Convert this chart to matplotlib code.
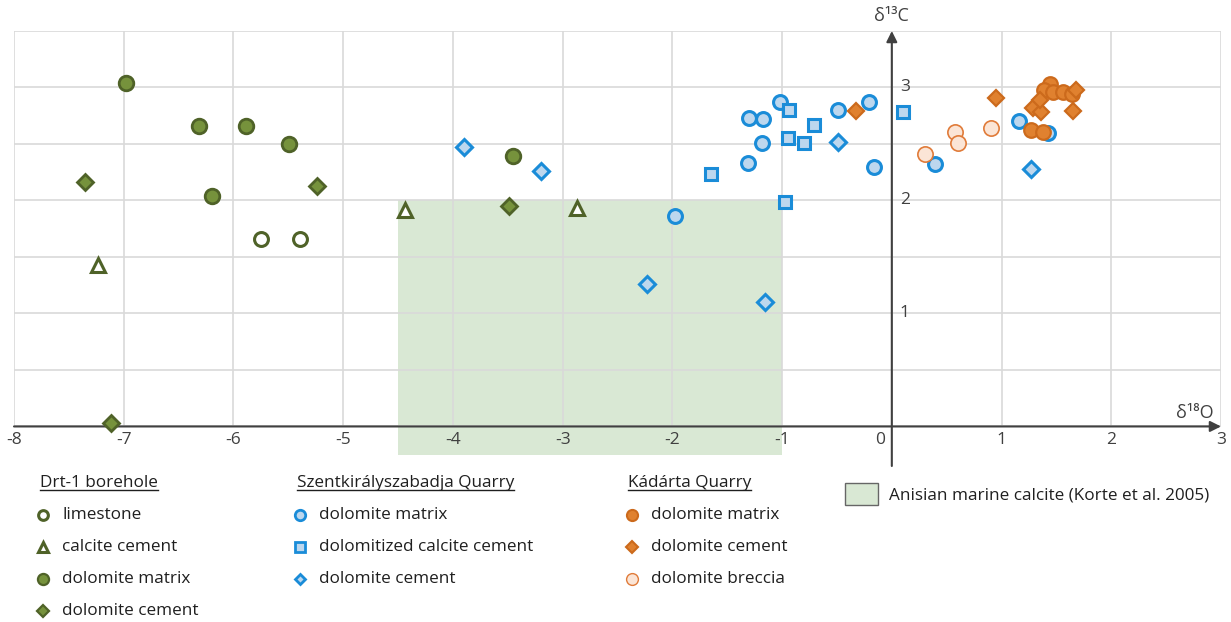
import matplotlib.pyplot as plt
from matplotlib.patches import Rectangle
from matplotlib.lines import Line2D
from matplotlib.transforms import IdentityTransform

plt.rcParams['font.family'] = ['Open Sans', 'DejaVu Sans']

# Drt-1 borehole
drt_lime_x = [-5.75, -5.39]
drt_lime_y = [1.66, 1.66]
drt_calc_x = [-7.23, -4.44, -2.87]
drt_calc_y = [1.43, 1.92, 1.93]
drt_mat_x = [-6.98, -6.31, -5.89, -5.49, -6.20, -3.45]
drt_mat_y = [3.04, 2.66, 2.66, 2.50, 2.04, 2.39]
drt_cem_x = [-7.35, -5.24, -3.49, -7.12]
drt_cem_y = [2.16, 2.13, 1.95, 0.03]

# Szentkirályszabadja Quarry
szk_mat_x = [-1.02, -1.30, -1.17, -1.18, -1.31, -0.49, -0.21, -0.16, -1.98, 0.39, 1.16, 1.42]
szk_mat_y = [2.87, 2.73, 2.72, 2.51, 2.33, 2.80, 2.87, 2.30, 1.86, 2.32, 2.70, 2.60]
szk_sq_x = [-0.94, -0.71, -0.95, -0.80, 0.10, -1.65, -0.97]
szk_sq_y = [2.80, 2.67, 2.55, 2.51, 2.78, 2.23, 1.99]
szk_cem_x = [-3.90, -3.20, -0.49, -2.23, -1.16, 1.27]
szk_cem_y = [2.47, 2.26, 2.52, 1.26, 1.10, 2.28]

# Kádárta Quarry
kad_mat_x = [1.27, 1.38, 1.44, 1.39, 1.47, 1.56, 1.64]
kad_mat_y = [2.62, 2.61, 3.03, 2.98, 2.96, 2.96, 2.94]
kad_cem_x = [-0.33, 0.95, 1.29, 1.36, 1.35, 1.65, 1.68]
kad_cem_y = [2.79, 2.91, 2.82, 2.78, 2.89, 2.79, 2.98]
kad_brec_x = [0.30, 0.58, 0.60, 0.90]
kad_brec_y = [2.41, 2.61, 2.51, 2.64]

# Anisian marine calcite field
box_x = (-4.5, -1.0)
box_y = (-0.25, 2.0)

x_ticks = [-8, -7, -6, -5, -4, -3, -2, -1, 0, 1, 2, 3]
y_ticks = [1, 2, 3]

G_EDGE, G_FILL = '#4f6228', '#76923c'
B_EDGE, B_FILL = '#1a8cd8', '#bdd7ee'
O_EDGE, O_FILL = '#cc6a1c', '#e0812f'
BR_EDGE, BR_FILL = '#e07b39', '#fbe5d6'
BOX = '#d9e8d4'
AX = '#404040'
TXT = '#1f1f1f'

fig = plt.figure(figsize=(12.31, 6.22), dpi=100)
ax = fig.add_axes([14/1231, (622-466)/622, 1207/1231, 435/622])
ax.set_xlim(-8, 3)
ax.set_ylim(-0.35, 3.5)
ax.axis('off')

ax.add_patch(Rectangle((box_x[0], box_y[0]), box_x[1]-box_x[0], box_y[1]-box_y[0],
                       facecolor=BOX, edgecolor='none', zorder=0.5))
for gx in x_ticks:
    ax.plot([gx, gx], [0, 3.5], color='#d9d9d9', lw=1.2, zorder=1)
for k in range(8):
    gy = k * 0.5
    ax.plot([-8, 3], [gy, gy], color='#d9d9d9', lw=1.2, zorder=1)

ax.annotate('', xy=(3, 0), xytext=(-8, 0), annotation_clip=False, zorder=3,
            arrowprops=dict(arrowstyle='-|>', color=AX, lw=1.5, mutation_scale=16, shrinkA=0, shrinkB=0))
ax.annotate('', xy=(0, 3.5), xytext=(0, -0.35), annotation_clip=False, zorder=3,
            arrowprops=dict(arrowstyle='-|>', color=AX, lw=1.5, mutation_scale=16, shrinkA=0, shrinkB=0))

for t in x_ticks:
    dx = -12 if t == 0 else 0
    ax.annotate(str(t), (t, 0), xytext=(dx, -14), textcoords='offset pixels',
                ha='center', va='center', fontsize=12.5, color='#404040', annotation_clip=False)
for t in y_ticks:
    ax.annotate(str(t), (0, t), xytext=(13, 0), textcoords='offset pixels',
                ha='center', va='center', fontsize=12.5, color='#404040')
ax.annotate('δ¹³C', (0, 3.5), xytext=(0, 15), textcoords='offset pixels',
            ha='center', va='center', fontsize=13, color='#404040', annotation_clip=False)
ax.annotate('δ¹⁸O', (3, 0), xytext=(-7, 13), textcoords='offset pixels',
            ha='right', va='center', fontsize=13, color='#404040', annotation_clip=False)

kw = dict(linestyle='none', zorder=4)
ax.plot(drt_lime_x, drt_lime_y, marker='o', ms=10, mfc='white', mec=G_EDGE, mew=2.2, **kw)
ax.plot(drt_calc_x, drt_calc_y, marker='^', ms=10.5, mfc='white', mec=G_EDGE, mew=2.2, **kw)
ax.plot(drt_mat_x, drt_mat_y, marker='o', ms=10.5, mfc=G_FILL, mec=G_EDGE, mew=2, **kw)
ax.plot(drt_cem_x, drt_cem_y, marker='D', ms=8.5, mfc=G_FILL, mec=G_EDGE, mew=2, **kw)
ax.plot(szk_mat_x, szk_mat_y, marker='o', ms=10, mfc=B_FILL, mec=B_EDGE, mew=2.2, **kw)
ax.plot(szk_sq_x, szk_sq_y, marker='s', ms=8.5, mfc=B_FILL, mec=B_EDGE, mew=2.2, **kw)
ax.plot(szk_cem_x, szk_cem_y, marker='D', ms=8, mfc=B_FILL, mec=B_EDGE, mew=2.2, **kw)
ax.plot(kad_mat_x, kad_mat_y, marker='o', ms=10.5, mfc=O_FILL, mec=O_EDGE, mew=1.6, **kw)
ax.plot(kad_cem_x, kad_cem_y, marker='D', ms=8.5, mfc=O_FILL, mec=O_EDGE, mew=1.6, **kw)
ax.plot(kad_brec_x, kad_brec_y, marker='o', ms=11, mfc=BR_FILL, mec=BR_EDGE, mew=1.2, **kw)

# legend built by hand
def fx(px):
    return px / 1231

def fy(py):
    return 1 - py / 622

renderer = fig.canvas.get_renderer()

def title(px, py, s):
    t = fig.text(fx(px), fy(py), s, ha='left', va='center', fontsize=12.3, color=TXT)
    bb = t.get_window_extent(renderer)
    fig.add_artist(Line2D([bb.x0, bb.x1], [bb.y0 + 1, bb.y0 + 1], transform=IdentityTransform(),
                          color=TXT, lw=1))

def item(px, py, s, marker, ms, mfc, mec, mew):
    fig.add_artist(Line2D([fx(px)], [fy(py)], marker=marker, ms=ms, mfc=mfc, mec=mec, mew=mew,
                          linestyle='none', transform=fig.transFigure))
    fig.text(fx(px + 19), fy(py), s, ha='left', va='center', fontsize=12.3, color=TXT)

title(40, 483, 'Drt-1 borehole')
item(43, 515, 'limestone', 'o', 7, 'white', G_EDGE, 2.2)
item(43, 547, 'calcite cement', '^', 7, 'white', G_EDGE, 2.2)
item(43, 579, 'dolomite matrix', 'o', 8, G_FILL, G_EDGE, 1.6)
item(43, 611, 'dolomite cement', 'D', 6, G_FILL, G_EDGE, 1.6)

title(297, 483, 'Szentkirályszabadja Quarry')
item(300, 515, 'dolomite matrix', 'o', 7.5, B_FILL, B_EDGE, 2)
item(300, 547, 'dolomitized calcite cement', 's', 7, B_FILL, B_EDGE, 2)
item(300, 579, 'dolomite cement', 'D', 5.5, B_FILL, B_EDGE, 2)

title(628, 483, 'Kádárta Quarry')
item(632, 515, 'dolomite matrix', 'o', 8, O_FILL, O_EDGE, 1.5)
item(632, 547, 'dolomite cement', 'D', 6, O_FILL, O_EDGE, 1.5)
item(632, 579, 'dolomite breccia', 'o', 8.5, BR_FILL, BR_EDGE, 1)

fig.add_artist(Rectangle((fx(845), fy(505)), fx(878) - fx(845), fy(483) - fy(505),
                         transform=fig.transFigure, facecolor=BOX, edgecolor='#666666', lw=1))
fig.text(fx(889), fy(495), 'Anisian marine calcite (Korte et al. 2005)', ha='left', va='center',
         fontsize=12.3, color=TXT)

fig.savefig('out.png', dpi=100)
